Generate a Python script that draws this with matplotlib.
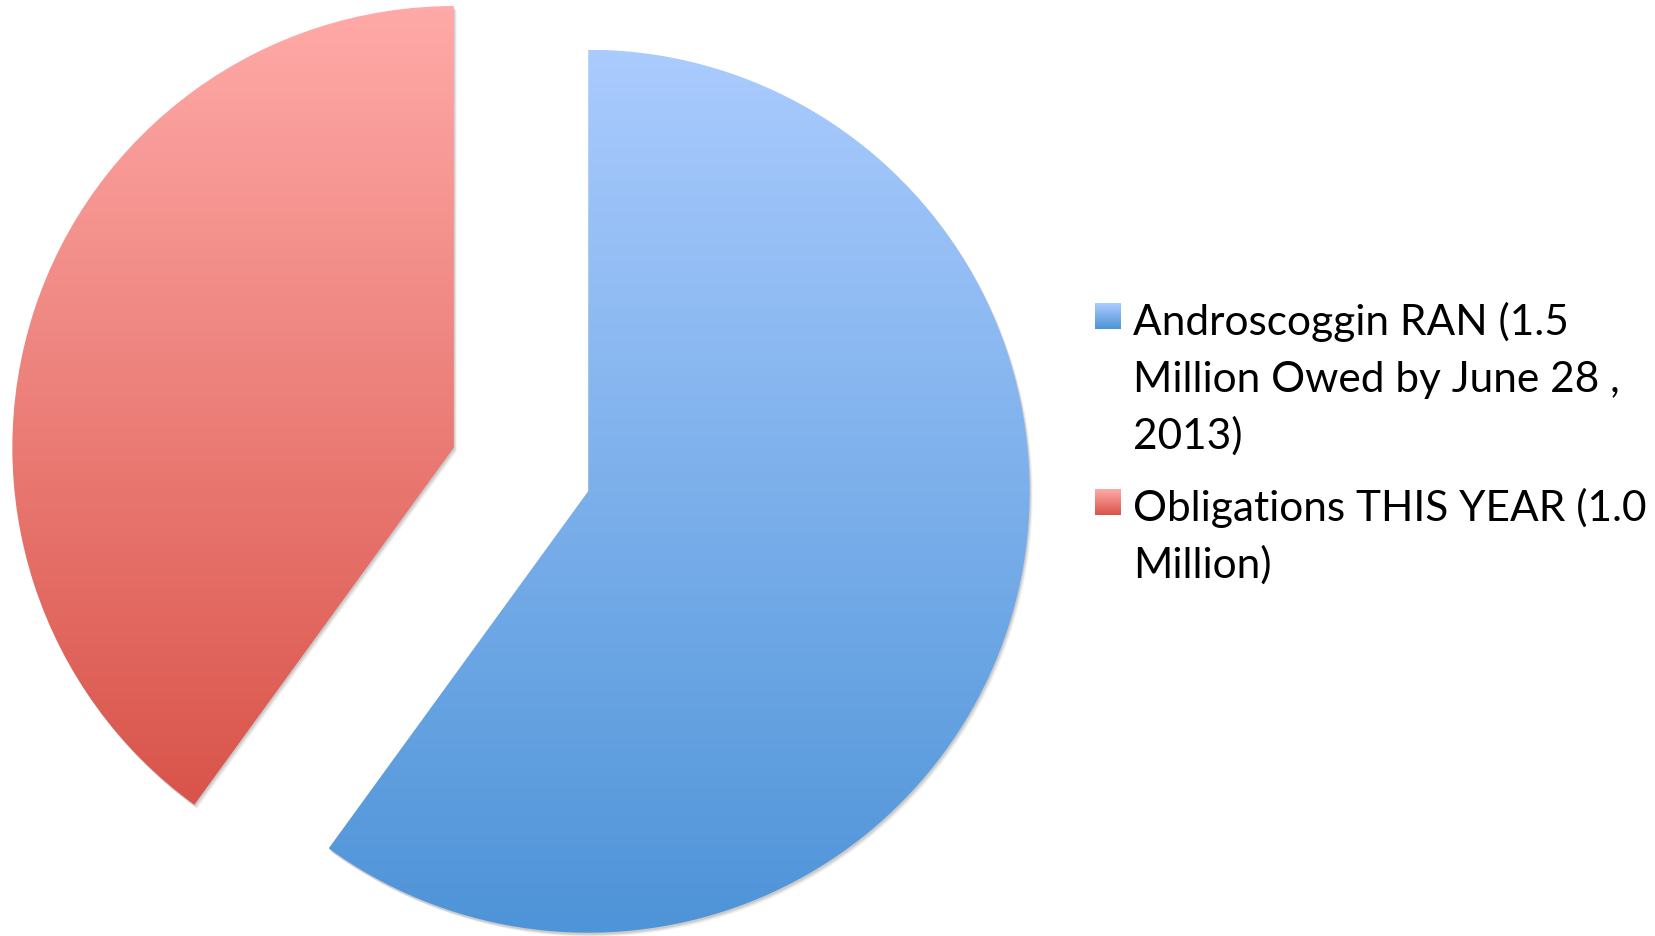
import matplotlib
matplotlib.use("Agg")
import matplotlib.pyplot as plt
import numpy as np
from matplotlib.colors import LinearSegmentedColormap
from matplotlib.patches import PathPatch
from matplotlib.transforms import Affine2D

labels = ["Androscoggin RAN (1.5\nMillion Owed by June 28 ,\n2013)",
          "Obligations THIS YEAR (1.0\nMillion)"]
values = [1.5, 1.0]
explode = [0.0, 0.32]
grad_top = ["#AACBFE", "#FFAAA8"]
grad_bottom = ["#4E94D8", "#D9544A"]

W, H = 1656, 937
fig = plt.figure(figsize=(W / 100, H / 100), dpi=100)
ax = fig.add_axes([0, 0, 1, 1])

cx, cy, R = 588.2, H - 492.2, 441.5
wedges, _ = ax.pie(values, startangle=90, counterclock=False,
                   explode=[e * R for e in explode],
                   radius=R, center=(cx, cy), frame=False)

for i, w in enumerate(wedges):
    path = w.get_path()
    ext = path.get_extents()
    # soft shadow
    for dx, dy, a in [(3, -4, 0.05), (2, -3, 0.07), (1, -2, 0.09)]:
        sh = PathPatch(path, facecolor="black", edgecolor="none", alpha=a,
                       transform=Affine2D().translate(dx, dy) + ax.transData, zorder=1)
        ax.add_patch(sh)
    w.set_facecolor("none")
    w.set_edgecolor("none")
    w.set_zorder(3)
    cmap = LinearSegmentedColormap.from_list(f"g{i}", [grad_bottom[i], grad_top[i]])
    grad = np.linspace(0, 1, 256).reshape(-1, 1)
    im = ax.imshow(grad, cmap=cmap, aspect="auto", origin="lower",
                   extent=[ext.x0, ext.x1, ext.y0, ext.y1], zorder=2,
                   interpolation="bilinear")
    im.set_clip_path(w)

# legend drawn manually
font = "Lato"
fs = 30.5
line_h = 57
entry_gap = 72
sq = 26
sq_x = 1095
text_x = 1133
baseline = 335
for i, lab in enumerate(labels):
    lines = lab.split("\n")
    cmap = LinearSegmentedColormap.from_list(f"l{i}", [grad_bottom[i], grad_top[i]])
    grad = np.linspace(0, 1, 64).reshape(-1, 1)
    top_y = baseline - 31
    ax.imshow(grad, cmap=cmap, aspect="auto", origin="lower",
              extent=[sq_x, sq_x + sq, H - (top_y + sq), H - top_y], zorder=2)
    for j, ln in enumerate(lines):
        ax.text(text_x, H - (baseline + j * line_h), ln, fontsize=fs, family=font,
                va="baseline", ha="left", color="black")
    baseline += (len(lines) - 1) * line_h + entry_gap

ax.set_xlim(0, W)
ax.set_ylim(0, H)
ax.set_aspect("equal")
ax.axis("off")
fig.savefig("out.png", dpi=100)
